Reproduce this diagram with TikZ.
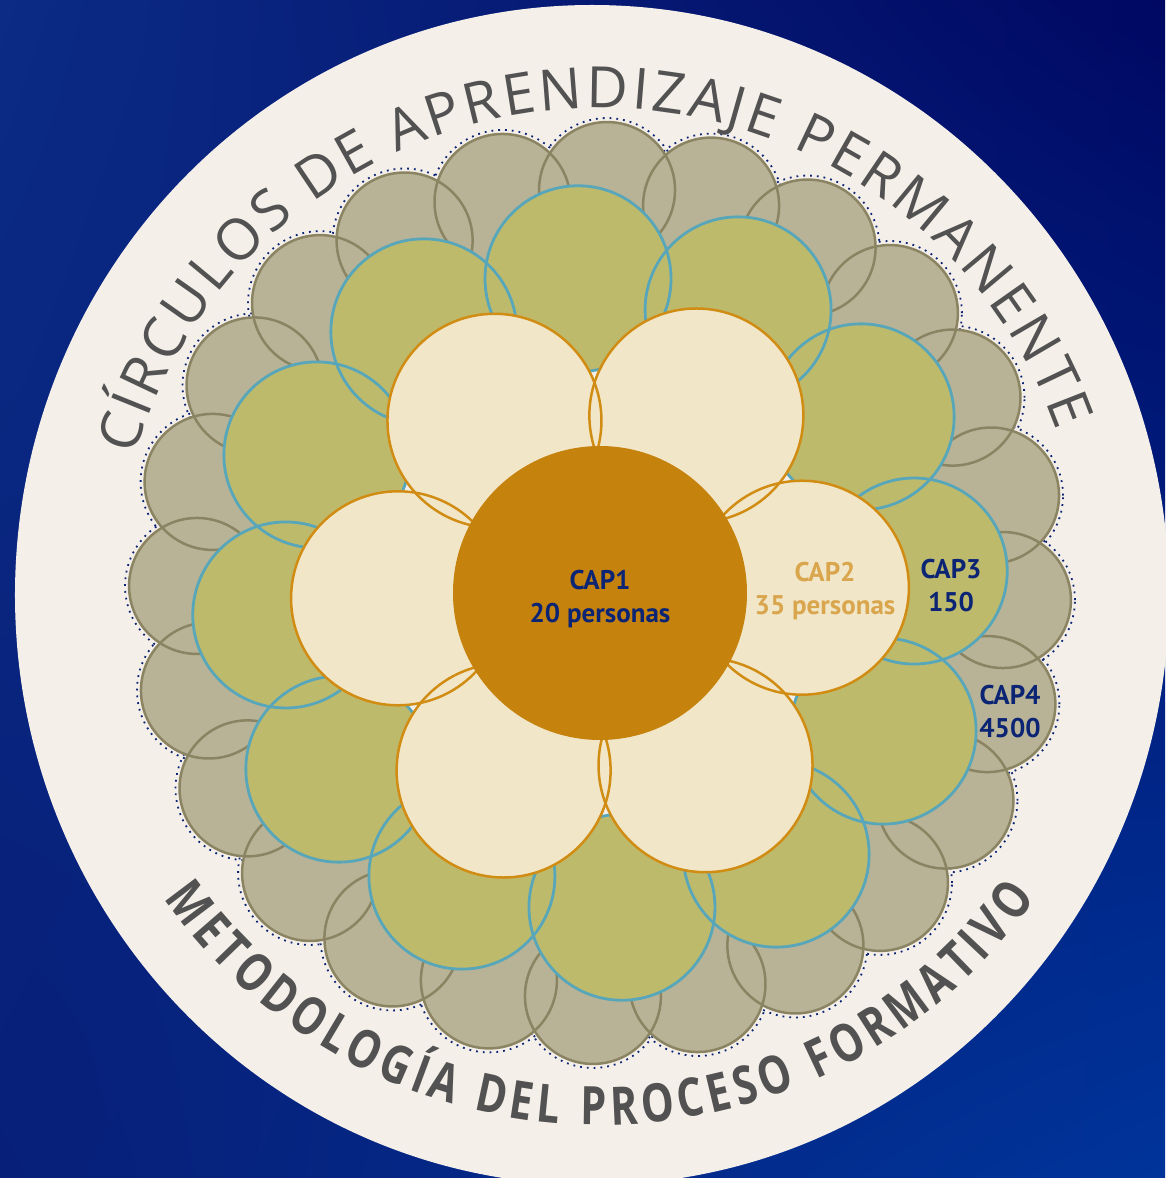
\documentclass[tikz,border=0pt]{standalone}
\usepackage{fontspec}
\usepackage{tikz}
\usetikzlibrary{decorations.text,shadings}

\setmainfont{PT Sans}
\newfontfamily\arcfont{Open Sans}
\newfontfamily\narrowarcfont[FakeStretch=0.78]{Open Sans}
\newcommand\toparc{\arcfont\fontsize{57}{57}\selectfont}
\newcommand\botarc{\narrowarcfont\bfseries\fontsize{53}{53}\selectfont}

\definecolor{bgcream}{HTML}{F5EFE9}
\definecolor{bgtl}{HTML}{0B2B85}
\definecolor{bgtr}{HTML}{000863}
\definecolor{bgbl}{HTML}{071F78}
\definecolor{bgbr}{HTML}{00349A}
\definecolor{grayfill}{HTML}{B8B396}
\definecolor{grayline}{HTML}{8B8463}
\definecolor{greenfill}{HTML}{BEBA6C}
\definecolor{tealline}{HTML}{58A6B9}
\definecolor{petalfill}{HTML}{F1E7C8}
\definecolor{petalline}{HTML}{D18C14}
\definecolor{corefill}{HTML}{C5820D}
\definecolor{navytext}{HTML}{0B2474}
\definecolor{captwo}{HTML}{D9A64E}
\definecolor{arcgray}{HTML}{525252}

\tikzset{
  caplabel/.style={align=center, font=\bfseries\fontsize{27}{33}\selectfont, inner sep=0pt},
}

\begin{document}
\begin{tikzpicture}[x=1pt, y=1pt]
  \useasboundingbox (-600,-585) rectangle (565,593);
  \shade[upper left=bgtl, upper right=bgtr, lower left=bgbl, lower right=bgbr]
    (-600,-585) rectangle (565,593);
  \fill[bgcream] (-8,-2) ellipse [x radius=577, y radius=590];

  % CAP4 ring
  \foreach \a in {-1,14,...,344}
    \draw[navytext, line width=1.8pt, dash pattern=on 1.8pt off 5pt] (\a:403) circle (72);
  \foreach \a in {-1,14,...,344}
    \fill[grayfill] (\a:403) circle (68);
  \foreach \a in {-1,14,...,344}
    \draw[grayline, line width=2.5pt] (\a:403) circle (68);

  % CAP3 ring
  \foreach \a in {4,34,...,334}
    \fill[greenfill] (\a:315) circle (93);
  \foreach \a in {4,34,...,334}
    \draw[tealline, line width=2.8pt] (\a:315) circle (93);

  % CAP2 petals
  \foreach \a in {1.5,61.5,...,301.5}
    \fill[petalfill] (\a:202) circle (107);
  \foreach \a in {1.5,61.5,...,301.5}
    \draw[petalline, line width=2.5pt] (\a:202) circle (107);

  % CAP1
  \fill[corefill] (0,0) circle (147);

  \node[caplabel, text=navytext] (cap1) at (0,-6) {CAP1\\20 personas};
  \node[caplabel, text=captwo] (cap2) at (225,2) {CAP2\\35 personas};
  \node[caplabel, text=navytext] (cap3) at (351,7) {CAP3\\150};
  \node[caplabel, text=navytext] (cap4) at (410,-119) {CAP4\\4500};

  % titles along the rim
  \path[decorate, decoration={text along path, text color=arcgray, text align={fit to path},
      text={|\toparc|CÍRCULOS DE APRENDIZAJE PERMANENTE}}]
    (163.5:485) arc [start angle=163.5, end angle=19.5, radius=485];
  \path[decorate, decoration={text along path, text color=arcgray, text align={fit to path},
      text={|\botarc|METODOLOGÍA DEL PROCESO FORMATIVO}}]
    (215:532) arc [start angle=215, end angle=325, radius=532];
\end{tikzpicture}
\end{document}
